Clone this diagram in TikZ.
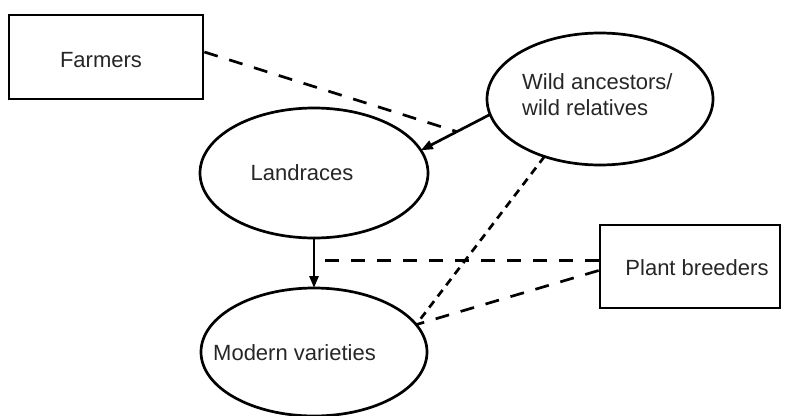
\documentclass[tikz,border=0pt]{standalone}
\usepackage{fontspec}
\setmainfont{Liberation Sans}
\usetikzlibrary{shapes.geometric,arrows.meta}
\begin{document}
\begin{tikzpicture}[x=1pt,y=-1pt,
  every node/.style={font=\fontsize{22}{26}\selectfont, text=black!85},
  boxnode/.style={draw, line width=2.7pt, rectangle, inner sep=0pt},
  ellnode/.style={draw, line width=2.7pt, ellipse, inner sep=0pt, outer sep=0pt},
  txt/.style={inner sep=0pt},
  conn/.style={line width=2.7pt},
  dashconn/.style={line width=2.7pt, dash pattern=on 14pt off 12pt},
  dotconn/.style={line width=2.7pt, dash pattern=on 8pt off 6pt},
  arr/.style={-{Triangle[length=12pt,width=9pt]}}
]
\useasboundingbox (0,0) rectangle (786,415);

\node[boxnode, minimum width=194pt, minimum height=84pt] (farmers) at (106,57) {};
\node[txt] (farmerstxt) at (101,60) {Farmers};

\node[boxnode, minimum width=180pt, minimum height=83pt] (pb) at (690,266.5) {};
\node[txt] (pbtxt) at (697,268) {Plant breeders};

\node[ellnode, minimum width=226pt, minimum height=132pt] (wild) at (600,99) {};
\node[txt, align=left, anchor=west] (wildtxt) at (522,95) {Wild ancestors/\\wild relatives};

\node[ellnode, minimum width=228pt, minimum height=130pt] (land) at (314,173) {};
\node[txt] (landtxt) at (302,173) {Landraces};

\node[ellnode, minimum width=226pt, minimum height=128pt] (modern) at (314,352) {};
\node[txt, anchor=west] (moderntxt) at (213,353) {Modern varieties};

% connectors
\draw[conn, arr] (wild.188) -- (land.12) coordinate[pos=0.48] (wlmid);
\draw[conn, arr] (land.south) -- (modern.north);
\draw[dashconn] ([yshift=5pt]farmers.east) -- (wlmid);
\draw[dashconn] ([yshift=6pt]pb.west) -- ([yshift=6pt]pb.west -| land.south);
\draw[dashconn] ([yshift=-4pt]pb.west) -- (modern.15);
\draw[dotconn] (wild.226) -- (modern.15);
\end{tikzpicture}
\end{document}
